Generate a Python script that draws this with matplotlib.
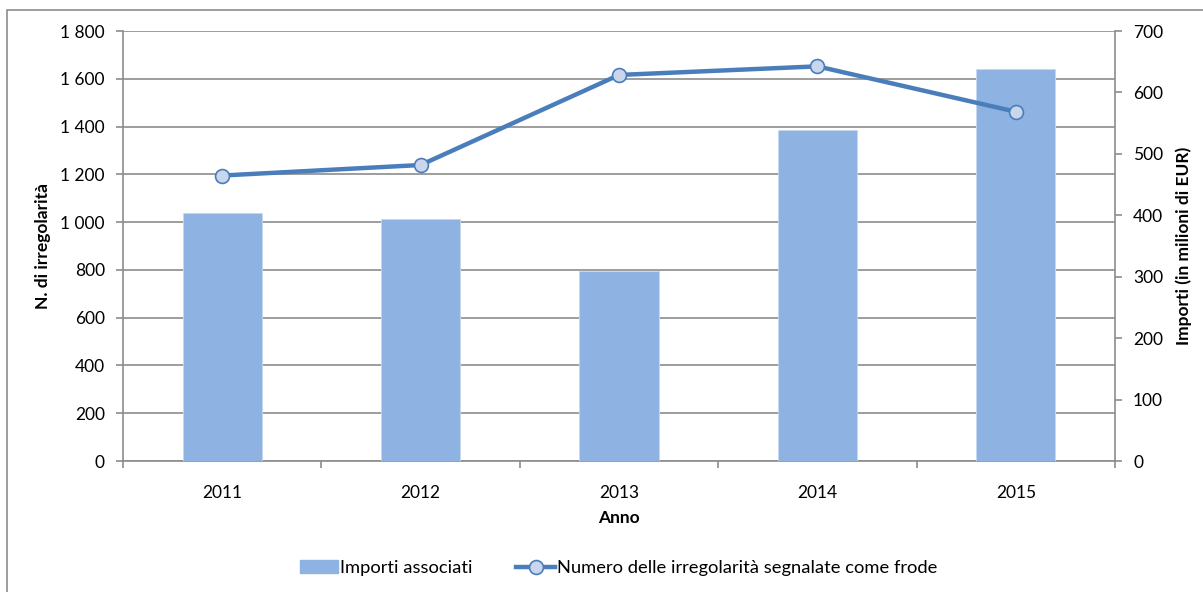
import matplotlib.pyplot as plt
from matplotlib.patches import Rectangle
from matplotlib.lines import Line2D
from matplotlib.ticker import FuncFormatter, MultipleLocator

plt.rcParams['font.family'] = ['Lato', 'DejaVu Sans']

# Data
anni = ['2011', '2012', '2013', '2014', '2015']
importi = [404, 394, 309, 539, 638]           # milioni di EUR (asse destro)
irregolarita = [1195, 1239, 1616, 1652, 1462]  # numero (asse sinistro)

bar_color = '#8eb3e2'
line_color = '#4a7ebb'
grid_color = '#8c8c8c'
fs = 12.5

fig = plt.figure(figsize=(12.03, 5.92), dpi=100)

# outer chart frame (cropped at right/bottom like the source)
fig.patches.append(Rectangle((7 / 1203, -0.5), 2.0, 1.5 - 10 / 592,
                             transform=fig.transFigure, fill=False,
                             edgecolor=grid_color, linewidth=1.2))

pos = [123 / 1203, 1 - 461 / 592, (1115 - 123) / 1203, (461 - 31) / 592]
ax = fig.add_axes(pos)
x = list(range(len(anni)))

# left axis: grid + ticks
ax.set_ylim(0, 1800)
ax.set_xlim(-0.5, len(anni) - 0.5)
ax.yaxis.set_major_locator(MultipleLocator(200))
ax.yaxis.set_major_formatter(FuncFormatter(lambda v, p: f'{int(v):,}'.replace(',', ' ')))
ax.grid(axis='y', color=grid_color, linewidth=1.2)
ax.set_axisbelow(True)
ax.set_xticks(x)
ax.set_xticklabels(anni)
ax.set_xticks([i - 0.5 for i in range(len(anni) + 1)], minor=True)
ax.tick_params(axis='x', which='major', length=0, pad=17, labelsize=fs)
ax.tick_params(axis='x', which='minor', length=5, color=grid_color, width=1.2)
ax.tick_params(axis='y', length=5, color=grid_color, width=1.2, pad=8, labelsize=fs)
for s in ['top', 'right']:
    ax.spines[s].set_visible(False)
for s in ['left', 'bottom']:
    ax.spines[s].set_color(grid_color)
    ax.spines[s].set_linewidth(1.2)
ax.set_ylabel('N. di irregolarità', fontsize=fs, fontweight='bold', labelpad=7)
ax.set_xlabel('Anno', fontsize=fs, fontweight='bold', labelpad=7)

# right axis: bars
ax2 = ax.twinx()
ax2.set_ylim(0, 700)
ax2.yaxis.set_major_locator(MultipleLocator(100))
ax2.bar(x, importi, width=0.4, color=bar_color, edgecolor='#c7d9ef', linewidth=0.6,
        label='Importi associati')
ax2.tick_params(axis='y', length=5, color=grid_color, width=1.2, pad=8, labelsize=fs)
for s in ['top', 'left', 'bottom']:
    ax2.spines[s].set_visible(False)
ax2.spines['right'].set_color(grid_color)
ax2.spines['right'].set_linewidth(1.2)
ax2.set_ylabel('Importi (in milioni di EUR)', fontsize=fs, fontweight='bold', labelpad=9)

# line on top, same scale as left axis
ax3 = ax.twinx()
ax3.set_ylim(ax.get_ylim())
ax3.axis('off')
ax3.plot(x, irregolarita, color=line_color, linewidth=3.2, marker='o', markersize=10,
         markerfacecolor='#c9d6ec', markeredgecolor=line_color, markeredgewidth=1.2,
         solid_capstyle='round', zorder=3)

handles = [Rectangle((0, 0), 1, 1, color=bar_color),
           Line2D([], [], color=line_color, linewidth=3.2, marker='o', markersize=10,
                  markerfacecolor='#c9d6ec', markeredgecolor=line_color, markeredgewidth=1.2)]
fig.legend(handles, ['Importi associati', 'Numero delle irregolarità segnalate come frode'],
           loc='center', bbox_to_anchor=(0.514, 1 - 568 / 592), ncol=2, frameon=False,
           fontsize=13.2, handlelength=2.1, handleheight=0.75, handletextpad=0.1,
           columnspacing=2.4)

fig.savefig('out.png', dpi=100)
